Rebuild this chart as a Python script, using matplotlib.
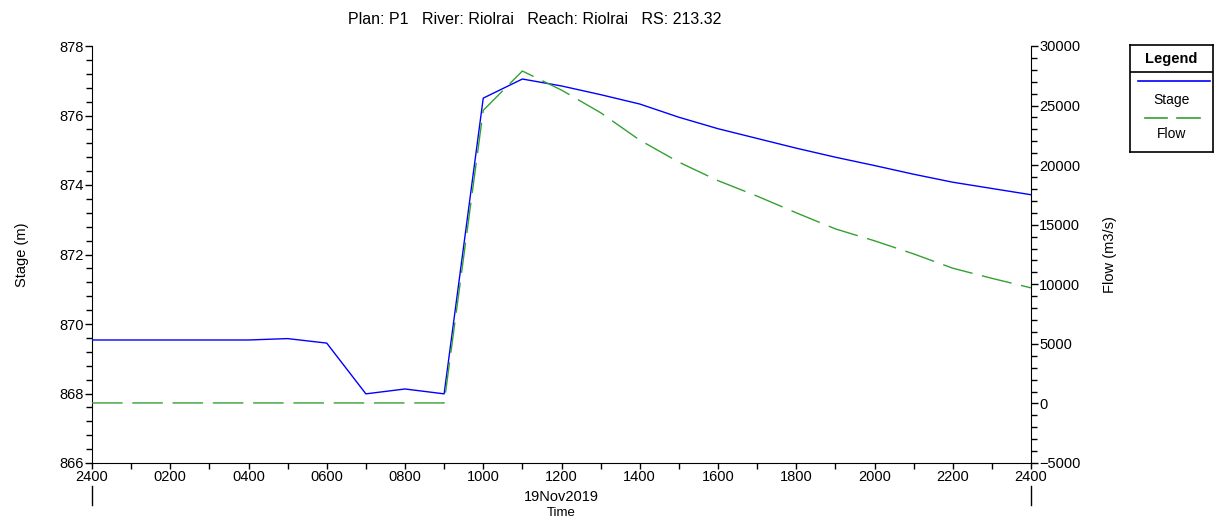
import matplotlib.pyplot as plt
from matplotlib.ticker import MultipleLocator, FixedLocator
from matplotlib.lines import Line2D

plt.rcParams['font.family'] = ['Liberation Sans', 'DejaVu Sans']

# hourly hydrograph for 19Nov2019 (hour 0 = 2400 of the previous day)
hours = [0, 1, 2, 3, 4, 5, 6, 7, 8, 9, 10, 11, 12, 13, 14, 15, 16, 17,
         18, 19, 20, 21, 22, 23, 24]
stage = [869.54, 869.54, 869.54, 869.54, 869.54, 869.58, 869.45, 867.99,
         868.13, 867.99, 876.50, 877.05, 876.85, 876.60, 876.33, 875.95,
         875.62, 875.34, 875.06, 874.80, 874.56, 874.31, 874.08, 873.90,
         873.72]
flow = [40, 40, 40, 40, 40, 40, 40, 40, 40, 40, 24600, 27900, 26300,
        24400, 22100, 20250, 18700, 17400, 16000, 14650, 13650, 12550,
        11350, 10500, 9700]

xtick_hours = list(range(0, 25, 2))
xtick_labels = ['2400', '0200', '0400', '0600', '0800', '1000', '1200',
                '1400', '1600', '1800', '2000', '2200', '2400']

fig = plt.figure(figsize=(12.27, 5.2), dpi=100)
ax = fig.add_axes([92 / 1227, 57 / 520, 939 / 1227, 417 / 520])
ax2 = ax.twinx()

blue = '#0000ff'
green = '#33a033'
ax.plot(hours, stage, color=blue, lw=1.0, zorder=3)
ax2.plot(hours, flow, color=green, lw=1.0, dashes=(22, 7), zorder=2)

ax.set_xlim(0, 24)
ax.set_ylim(866, 878)
ax2.set_ylim(-5000, 30000)

ax.xaxis.set_major_locator(FixedLocator(xtick_hours))
ax.set_xticklabels(xtick_labels)
ax.xaxis.set_minor_locator(MultipleLocator(1))
ax.yaxis.set_major_locator(MultipleLocator(2))
ax.yaxis.set_minor_locator(MultipleLocator(0.4))
ax2.yaxis.set_major_locator(MultipleLocator(5000))
ax2.yaxis.set_minor_locator(MultipleLocator(1000))

for a in (ax, ax2):
    a.spines['top'].set_visible(False)
    a.tick_params(which='both', direction='out', length=5, width=1,
                  labelsize=10.5, pad=1, colors='black')
ax.spines['right'].set_visible(False)
ax2.spines['left'].set_visible(False)
ax2.spines['bottom'].set_visible(False)
ax.tick_params(axis='x', which='both', length=4)
ax.tick_params(axis='y', which='minor', length=4)
ax2.tick_params(axis='y', which='minor', length=4)

ax.set_ylabel('Stage (m)', fontsize=10.5, labelpad=22)
ax2.set_ylabel('Flow (m3/s)', fontsize=10.5, labelpad=16)

# day boundary markers and date under the time axis
for h in (0, 24):
    ax.plot([h, h], [-0.055, -0.1], transform=ax.get_xaxis_transform(),
            color='black', lw=1, clip_on=False)
ax.text(12, -0.065, '19Nov2019', transform=ax.get_xaxis_transform(),
        ha='center', va='top', fontsize=10.5)
ax.text(12, -0.105, 'Time', transform=ax.get_xaxis_transform(),
        ha='center', va='top', fontsize=9.5)

fig.text(535 / 1227, 1 - 20 / 520,
         'Plan: P1   River: Riolrai   Reach: Riolrai   RS: 213.32',
         ha='center', va='center', fontsize=11.5)

# boxed legend on the right
lg = fig.add_axes([1130 / 1227, 1 - 152 / 520, 83 / 1227, 107 / 520])
lg.set_xlim(0, 1)
lg.set_ylim(0, 1)
lg.set_xticks([])
lg.set_yticks([])
for s in lg.spines.values():
    s.set_linewidth(1.2)
lg.text(0.5, 0.87, 'Legend', ha='center', va='center', fontsize=10.5,
        fontweight='bold')
lg.add_line(Line2D([0, 1], [0.745, 0.745], color='black', lw=1.2))
lg.add_line(Line2D([0.1, 0.96], [0.66, 0.66], color=blue, lw=1.2))
lg.text(0.5, 0.49, 'Stage', ha='center', va='center', fontsize=10)
lg.add_line(Line2D([0.18, 0.45], [0.32, 0.32], color=green, lw=1.2))
lg.add_line(Line2D([0.57, 0.84], [0.32, 0.32], color=green, lw=1.2))
lg.text(0.5, 0.17, 'Flow', ha='center', va='center', fontsize=10)

fig.savefig('out.png', dpi=100)
